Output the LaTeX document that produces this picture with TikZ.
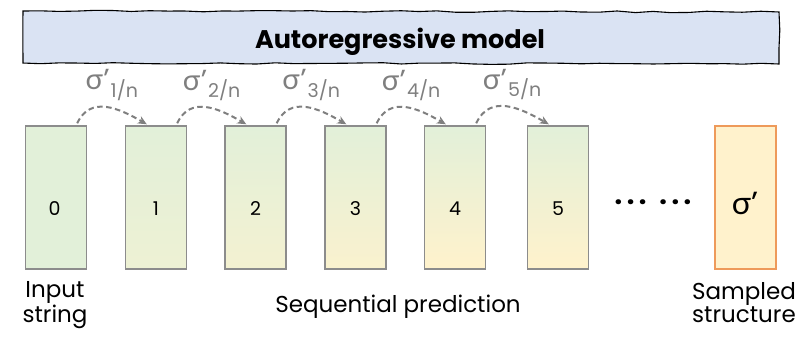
\documentclass[tikz,border=0pt]{standalone}
\usepackage{fontspec}
\setmainfont{Poppins}
\newfontfamily\gk{Lato}
\usetikzlibrary{arrows.meta,decorations.pathmorphing}
\definecolor{bannerblue}{HTML}{DAE3F3}
\definecolor{gfill}{HTML}{E2F0D9}
\definecolor{yfill}{HTML}{FFF2CC}
\definecolor{boxgray}{HTML}{8C8C8C}
\definecolor{arcgray}{HTML}{7F7F7F}
\definecolor{orangeb}{HTML}{EE9A5A}
\newcommand\sigl[1]{{\gk σ}\kern0.5pt’\raisebox{-0.45ex}{\fontsize{19}{19}\selectfont\kern1pt #1/n}}
\newcommand\dotgrp{.\kern4.5pt.\kern4.5pt.}
\begin{document}
\begin{tikzpicture}[x=1pt,y=-1pt,
  stepbox/.style={draw=boxgray, line width=1.4pt, minimum width=61pt, minimum height=143pt, inner sep=0pt},
  fade/.style={stepbox, top color=gfill, middle color=yfill!#1!gfill, bottom color=yfill!\fpeval{min(100,40+#1*1.4)}!gfill},
  arc/.style={draw=arcgray, line width=2pt, dash pattern=on 5.5pt off 3.5pt, -{Stealth[length=9pt,width=8pt]}},
  lab/.style={text=arcgray, font=\fontsize{29}{29}\selectfont, inner sep=0pt},
  num/.style={font=\fontsize{19}{19}\selectfont, inner sep=0pt},
  big/.style={font=\fontsize{23}{23}\selectfont, inner sep=0pt, align=center},
]
\useasboundingbox (0,0) rectangle (798,338);
\pgfmathsetseed{7}
% banner
\draw[black, line width=1.1pt, fill=bannerblue, decorate, decoration={random steps, segment length=18pt, amplitude=0.8pt}]
  (23,11) -- (779,12) -- (779,64) -- (23,63) -- cycle;
\node[font=\bfseries\fontsize{25.5}{25.5}\selectfont, anchor=base, inner sep=0pt] (title) at (400,48) {Autoregressive model};
% boxes
\node[stepbox, fill=gfill] (b0) at (56,197.5) {};
\node[fade=0] (b1) at (156,197.5) {};
\node[fade=15] (b2) at (255.5,197.5) {};
\node[fade=30] (b3) at (355.5,197.5) {};
\node[fade=45] (b4) at (455,197.5) {};
\node[fade=60] (b5) at (558,197.5) {};
\node[stepbox, draw=orangeb, fill=yfill] (bs) at (745.5,197.5) {};
% numbers
\node[num] (n0) at (54.5,209) {0};
\node[num] (n1) at (156,209) {1};
\node[num] (n2) at (255.5,209) {2};
\node[num] (n3) at (355.5,209) {3};
\node[num] (n4) at (455,209) {4};
\node[num] (n5) at (558,209) {5};
\node[font=\fontsize{32}{32}\selectfont, inner sep=0pt] (ns) at (745,203) {{\gk σ}'};
\node[font=\bfseries\fontsize{27}{27}\selectfont, inner sep=0pt] (dots) at (653,202) {\dotgrp\kern13pt\dotgrp};
% arcs
\foreach \a/\b/\k in {b0/b1/1, b1/b2/2, b2/b3/3, b3/b4/4, b4/b5/5}{
  \draw[arc] ([xshift=-10pt,yshift=2pt]\a.north east) to[out=65,in=150, looseness=1.15]
     node[lab, pos=0.5, above=6pt, xshift=5pt] {\sigl{\k}} ([xshift=22pt,yshift=1pt]\b.north west);
}
% bottom labels
\node[big, anchor=base] (inp) at (55,322) {Input\\[0pt]string};
\node[big, anchor=base] (seq) at (398,312) {Sequential prediction};
\node[big, anchor=base] (smp) at (744,322) {Sampled\\[0pt]structure};
\end{tikzpicture}
\end{document}
